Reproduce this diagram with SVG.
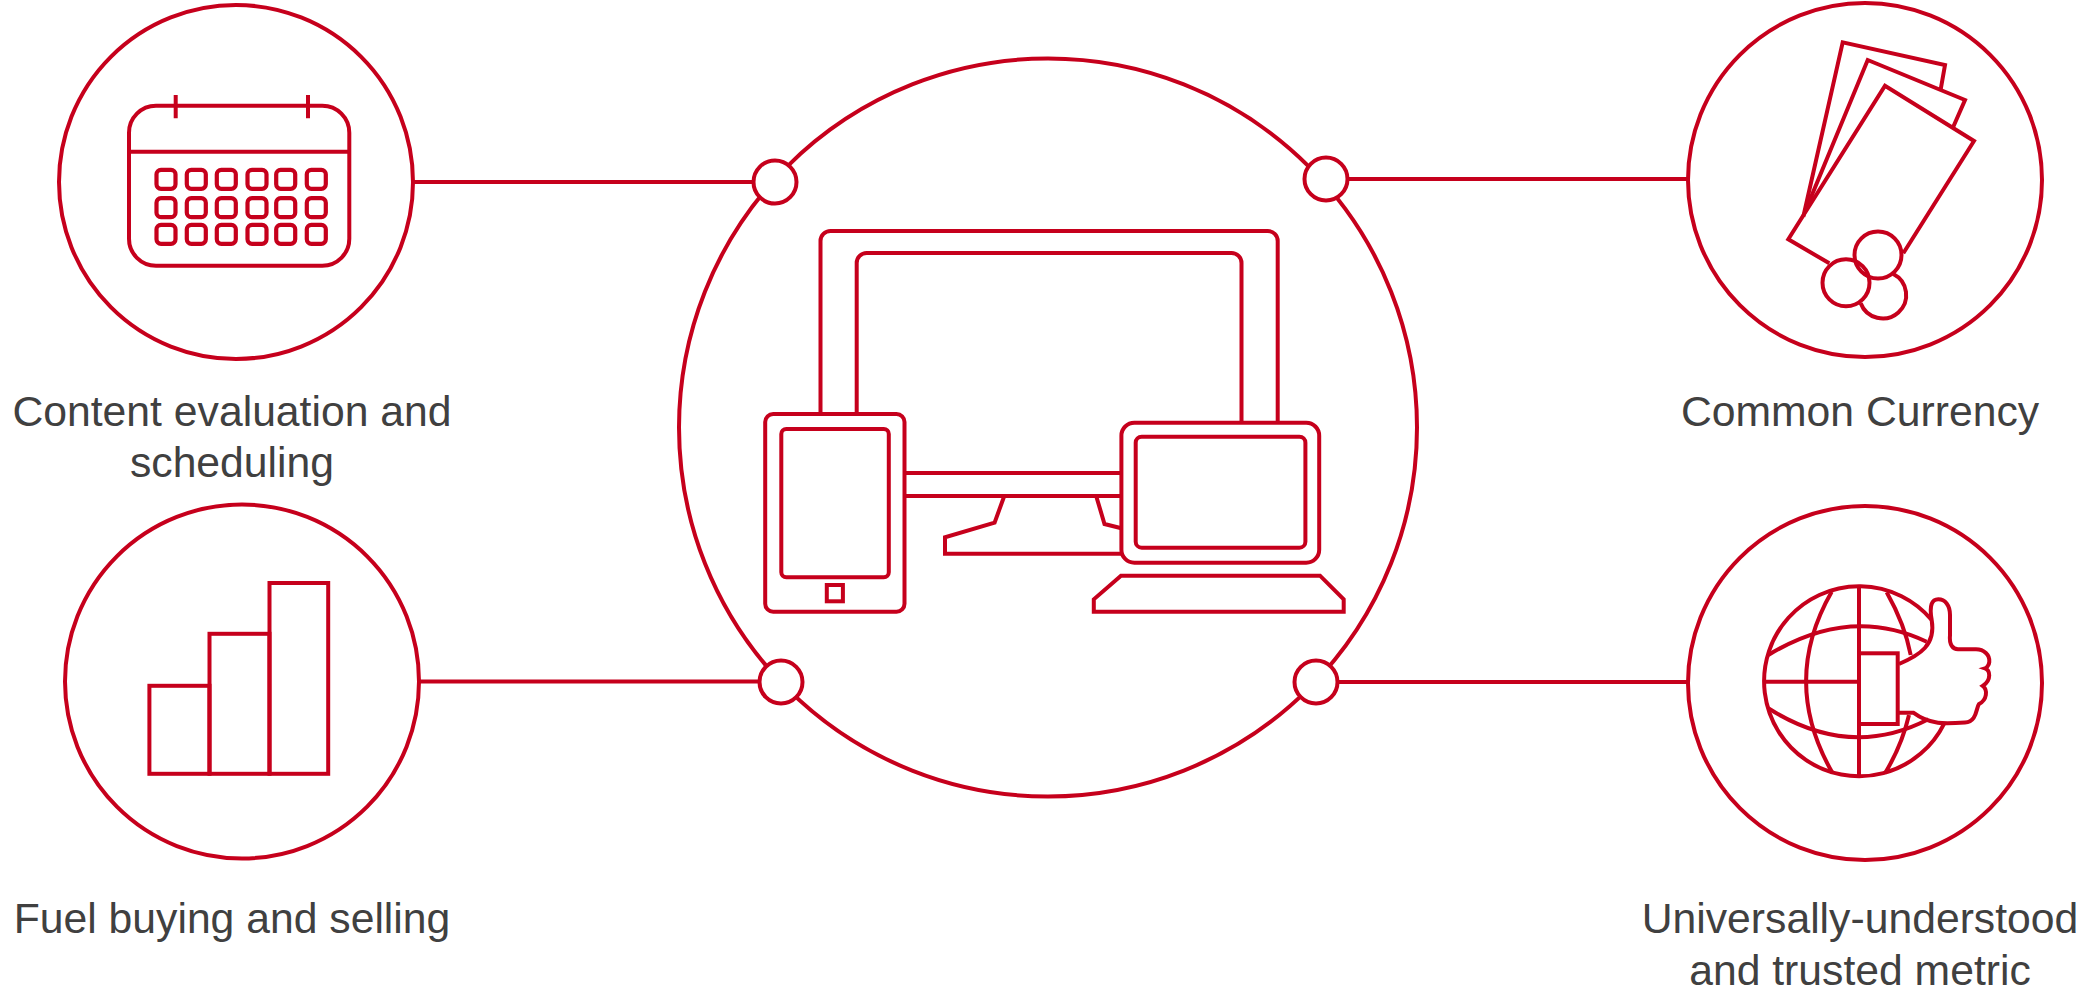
<svg xmlns="http://www.w3.org/2000/svg" width="2092" height="990" viewBox="0 0 2092 990">
<style>
.s{fill:none;stroke:#c6001c;stroke-width:4;stroke-linejoin:miter}
.w{fill:#fff;stroke:#c6001c;stroke-width:4}
.c{fill:none;stroke:#c6001c;stroke-width:4.200}
.t{font-family:"Liberation Sans",Arial,sans-serif;font-size:42.700px;fill:#404040;text-anchor:middle}
</style>
<defs><rect id="cell" x="-9.500" y="-9.500" width="19" height="19" rx="4.500" class="c"/></defs>
<rect width="2092" height="990" fill="#fff"/>
<g id="connectors">
<path class="s" d="M413 182H760M420 681.500H770M1340 179H1688M1330 682H1688"/>
</g>
<g id="center">
<circle class="s" cx="1048" cy="427.500" r="369"/>
<circle class="w" cx="775" cy="182" r="21.500"/>
<circle class="w" cx="1326" cy="179" r="21.500"/>
<circle class="w" cx="781" cy="682" r="21.500"/>
<circle class="w" cx="1316" cy="682" r="21.500"/>
<path class="s" d="M820.500 414V241a10 10 0 0 1 10-10H1267.700a10 10 0 0 1 10 10V422.700"/>
<path class="s" d="M856.700 414V263a10 10 0 0 1 10-10H1231.500a10 10 0 0 1 10 10V422.700"/>
<path class="s" d="M904.500 473H1121.400M904.500 496H1121.400"/>
<path class="s" d="M1004 496.700L994.600 522.700L945 537.300V553.700H1121.400M1096.400 496.700L1104.500 524L1121.400 528.300"/>
<rect class="s" x="765.200" y="414" width="139.300" height="197.700" rx="8"/>
<rect class="s" x="781.300" y="429" width="107.500" height="148.300" rx="5"/>
<rect class="s" x="826.800" y="585" width="16.100" height="16.300"/>
<rect class="s" x="1121.400" y="422.700" width="197.800" height="140" rx="13"/>
<rect class="s" x="1135.700" y="436.700" width="169.700" height="111" rx="6"/>
<path class="s" d="M1121 575.700H1320L1343.700 599.300V611.700H1093.800V599.300Z"/>
</g>
<g id="calendar">
<circle class="s" cx="236" cy="182" r="177"/>
<rect class="s" x="129" y="105.700" width="220.300" height="160" rx="27"/>
<path class="s" d="M129 151.700H349.300M175.700 95V118.300M308 95V118.300"/>
<use href="#cell" x="166" y="179.300"/><use href="#cell" x="196.300" y="179.300"/><use href="#cell" x="226.300" y="179.300"/><use href="#cell" x="257" y="179.300"/><use href="#cell" x="285.700" y="179.300"/><use href="#cell" x="316.300" y="179.300"/>
<use href="#cell" x="166" y="207.700"/><use href="#cell" x="196.300" y="207.700"/><use href="#cell" x="226.300" y="207.700"/><use href="#cell" x="257" y="207.700"/><use href="#cell" x="285.700" y="207.700"/><use href="#cell" x="316.300" y="207.700"/>
<use href="#cell" x="166" y="234.300"/><use href="#cell" x="196.300" y="234.300"/><use href="#cell" x="226.300" y="234.300"/><use href="#cell" x="257" y="234.300"/><use href="#cell" x="285.700" y="234.300"/><use href="#cell" x="316.300" y="234.300"/>
<text class="t" x="232" y="426">Content evaluation and</text>
<text class="t" x="232" y="477">scheduling</text>
</g>
<g id="fuel">
<circle class="s" cx="242" cy="681.500" r="177"/>
<rect class="s" x="149.400" y="685.800" width="60.100" height="88"/>
<rect class="s" x="209.500" y="633.800" width="60" height="140"/>
<rect class="s" x="269.500" y="583" width="58.700" height="190.800"/>
<text class="t" x="232" y="933">Fuel buying and selling</text>
</g>
<g id="currency">
<circle class="s" cx="1865" cy="180" r="177"/>
<path class="s" d="M1803.300 216.700L1842.700 42.300L1945 65L1940.700 89.300"/>
<path class="s" d="M1805 211.700L1867.700 60L1965 100L1953.300 126.700"/>
<path class="s" d="M1829.300 263.300L1788.300 239.300L1885 85.700L1974 141L1903.300 253.300"/>
<path class="s" d="M1893.300 274A23.500 23.500 0 1 1 1860.700 303.300"/>
<circle class="s" cx="1878" cy="255" r="23.500"/>
<circle class="s" cx="1846" cy="282.700" r="23.500"/>
<text class="t" x="1860" y="426">Common Currency</text>
</g>
<g id="globe">
<circle class="s" cx="1865" cy="683" r="177"/>
<path class="s" d="M1931.700 620A95 95 0 1 0 1944.300 723.300"/>
<path class="s" d="M1859 586V778M1764 681.700H1859"/>
<path class="s" d="M1831.700 591.700Q1780 681.700 1832.700 773.300"/>
<path class="s" d="M1886.700 592.300Q1905 625 1910.700 655M1909 715Q1902 745 1885 773.300"/>
<path class="s" d="M1768.300 655Q1850 605 1926.700 641.700M1768.300 708.300Q1850 760 1928.300 719.300"/>
<rect class="s" x="1859" y="653.300" width="38.700" height="70.700"/>
<path class="s" d="M1899 664C1920 655 1936 645 1931.700 620C1929 605 1932 599.300 1938.300 599.300C1945 599.300 1950 605 1950 615V635C1949 645 1953 649.300 1958 649.300H1976C1984 649.300 1990 655 1989.300 662C1989 666 1986 668 1985 668.300C1990 670 1992 680 1982.700 686C1988 690 1987 700 1979 704C1976 708 1977 722 1965 722.500C1945 724 1930 725 1913.300 712.700H1899"/>
<text class="t" x="1860" y="933">Universally-understood</text>
<text class="t" x="1860" y="985">and trusted metric</text>
</g>
</svg>
